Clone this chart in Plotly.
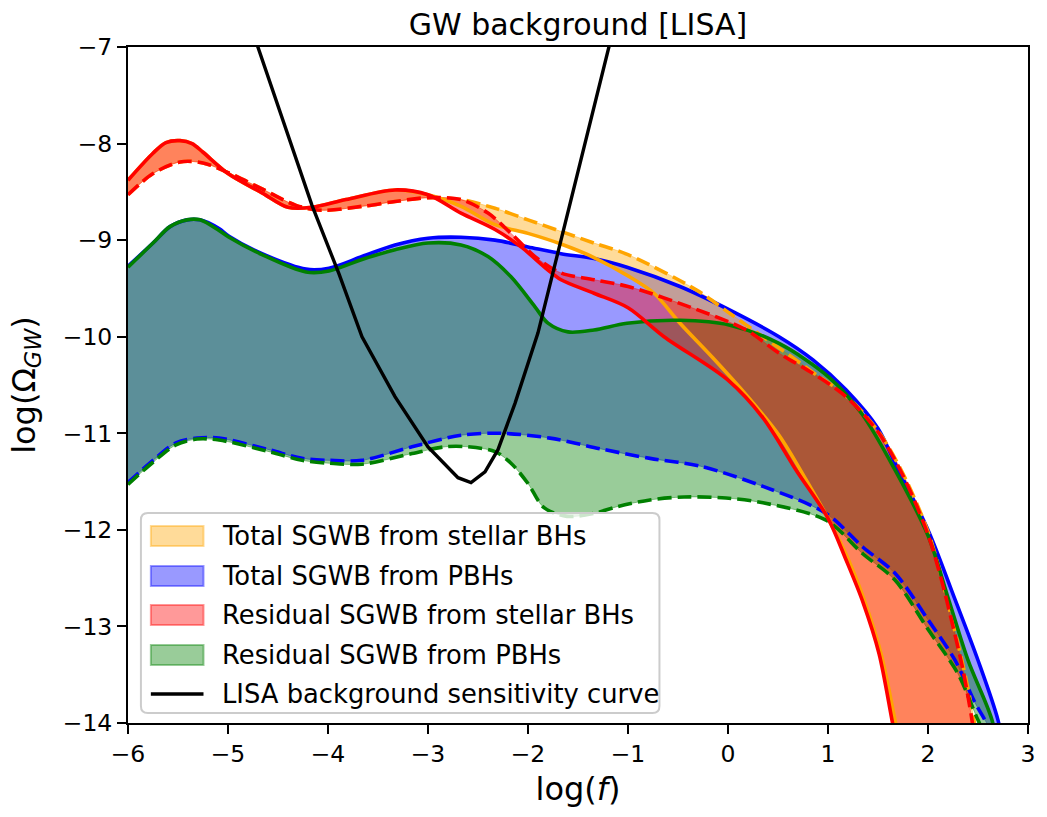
import plotly.graph_objects as go

# ---------------- data ----------------
# Total SGWB from stellar BHs (orange): solid and dashed bounds
x_tot_stellar_solid = [-6.0, -5.75, -5.62, -5.48, -5.36, -5.25, -5.0, -4.66, -4.4, -4.16, -3.82, -3.33, -3.0,
                       -2.67, -2.33, -2.0, -1.67, -1.34, -1.0, -0.74, -0.48, -0.15, 0.18, 0.51, 0.78,
                       1.01, 1.2, 1.37, 1.53, 1.67, 1.75]
y_tot_stellar_solid = [-8.38, -8.10, -7.99, -7.97, -8.0, -8.09, -8.31, -8.51, -8.66, -8.66, -8.58, -8.48, -8.53,
                       -8.65, -8.84, -8.93, -9.04, -9.18, -9.37, -9.55, -9.86, -10.22, -10.6, -11.02, -11.48,
                       -11.9, -12.3, -12.75, -13.28, -13.97, -14.4]
x_tot_stellar_dash = [-6.0, -5.75, -5.48, -5.25, -5.0, -4.66, -4.32, -4.06, -3.66, -3.33, -3.0, -2.67,
                      -2.33, -2.0, -1.67, -1.34, -1.0, -0.31, 0.02, 0.35, 0.68, 0.85, 1.18, 1.51, 1.77,
                      2.0, 2.13, 2.25, 2.36, 2.46, 2.52]
y_tot_stellar_dash = [-8.53, -8.31, -8.19, -8.20, -8.30, -8.47, -8.64, -8.69, -8.65, -8.60, -8.56, -8.58,
                      -8.67, -8.79, -8.91, -9.03, -9.15, -9.52, -9.76, -10.0, -10.24, -10.37, -10.61, -10.99,
                      -11.46, -12.02, -12.47, -12.97, -13.45, -13.97, -14.4]

# Total SGWB from PBHs (blue)
x_tot_pbh_solid = [-6.0, -5.75, -5.58, -5.41, -5.28, -5.09, -4.99, -4.66, -4.22, -3.99, -3.66, -3.33,
                   -3.0, -2.67, -2.33, -2.0, -1.67, -1.34, -1.01, -0.48, 0.01, 0.51, 0.85, 1.18, 1.5,
                   1.67, 2.0, 2.27, 2.5, 2.7, 2.78]
y_tot_pbh_solid = [-9.27, -9.03, -8.86, -8.79, -8.79, -8.88, -8.96, -9.14, -9.30, -9.29, -9.17, -9.05,
                   -8.98, -8.97, -9.00, -9.07, -9.14, -9.19, -9.28, -9.48, -9.72, -10.0, -10.24, -10.55,
                   -10.95, -11.31, -12.0, -12.72, -13.35, -13.97, -14.4]
x_tot_pbh_dash = [-6.0, -5.75, -5.52, -5.31, -5.09, -4.59, -4.26, -3.99, -3.66, -3.16, -2.67, -2.27,
                  -1.78, -1.28, -0.78, -0.28, 0.35, 0.98, 1.35, 1.67, 2.0, 2.27, 2.47, 2.57, 2.8]
y_tot_pbh_dash = [-11.51, -11.28, -11.10, -11.05, -11.05, -11.17, -11.26, -11.28, -11.28, -11.14, -11.02,
                  -11.00, -11.05, -11.16, -11.26, -11.34, -11.55, -11.83, -12.18, -12.45, -12.93, -13.35,
                  -13.79, -13.97, -14.4]

# Residual SGWB from stellar BHs (red)
x_res_stellar_solid = [-6.0, -5.75, -5.62, -5.48, -5.36, -5.25, -5.0, -4.66, -4.4, -4.16, -3.82, -3.33, -3.0,
                       -2.67, -2.33, -2.07, -1.8, -1.67, -1.34, -1.0, -0.64, 0.0, 0.35, 0.68, 1.0, 1.18,
                       1.35, 1.51, 1.64, 1.72]
y_res_stellar_solid = [-8.38, -8.10, -7.99, -7.97, -8.0, -8.09, -8.31, -8.51, -8.66, -8.66, -8.58, -8.48, -8.53,
                       -8.72, -8.89, -9.07, -9.31, -9.41, -9.55, -9.70, -10.0, -10.45, -10.84, -11.38, -11.88,
                       -12.31, -12.75, -13.28, -13.97, -14.4]
x_res_stellar_dash = [-6.0, -5.75, -5.48, -5.25, -5.0, -4.66, -4.32, -4.06, -3.66, -3.33, -3.0, -2.67,
                      -2.4, -2.17, -1.93, -1.67, -1.34, -1.0, -0.31, 0.18, 0.51, 0.85, 1.18, 1.51, 1.77,
                      2.0, 2.13, 2.25, 2.35, 2.44, 2.5]
y_res_stellar_dash = [-8.53, -8.31, -8.19, -8.20, -8.30, -8.47, -8.64, -8.69, -8.65, -8.60, -8.56, -8.58,
                      -8.72, -8.93, -9.17, -9.34, -9.41, -9.48, -9.72, -9.93, -10.17, -10.38, -10.62, -11.0,
                      -11.48, -12.05, -12.5, -13.0, -13.45, -13.97, -14.4]

# Residual SGWB from PBHs (green)
x_res_pbh_solid = [-6.0, -5.75, -5.58, -5.41, -5.28, -5.09, -4.99, -4.66, -4.22, -3.99, -3.66, -3.33,
                   -3.0, -2.67, -2.4, -2.17, -1.93, -1.8, -1.6, -1.34, -1.01, -0.48, 0.02, 0.51, 1.01,
                   1.34, 1.67, 2.0, 2.2, 2.4, 2.64, 2.72]
y_res_pbh_solid = [-9.28, -9.03, -8.86, -8.79, -8.79, -8.90, -8.97, -9.15, -9.33, -9.32, -9.20, -9.10,
                   -9.03, -9.05, -9.17, -9.38, -9.69, -9.86, -9.95, -9.93, -9.86, -9.83, -9.88, -10.07,
                   -10.42, -10.8, -11.38, -12.06, -12.7, -13.35, -13.97, -14.4]
x_res_pbh_dash = [-6.0, -5.75, -5.52, -5.31, -5.09, -4.59, -4.26, -3.99, -3.66, -3.16, -2.83, -2.6,
                  -2.33, -2.17, -2.0, -1.84, -1.61, -1.34, -1.11, -0.78, -0.44, -0.02, 0.35, 0.98, 1.35,
                  1.67, 2.0, 2.3, 2.5, 2.7]
y_res_pbh_dash = [-11.53, -11.30, -11.12, -11.06, -11.07, -11.19, -11.28, -11.31, -11.32, -11.21, -11.14,
                  -11.14, -11.19, -11.31, -11.52, -11.77, -11.86, -11.83, -11.76, -11.69, -11.66, -11.67,
                  -11.72, -11.90, -12.25, -12.52, -13.03, -13.49, -13.97, -14.4]

# LISA background sensitivity curve
x_lisa = [-4.8, -4.7, -4.37, -4.16, -3.89, -3.66, -3.33, -3.0, -2.7, -2.57, -2.43, -2.3, -2.13, -1.9,
          -1.67, -1.19, -1.1]
y_lisa = [-6.7, -7.0, -8.0, -8.64, -9.35, -10.0, -10.62, -11.14, -11.46, -11.51, -11.40, -11.17, -10.69,
          -9.96, -9.0, -7.0, -6.62]

legend_labels = ["Total SGWB from stellar BHs", "Total SGWB from PBHs",
                 "Residual SGWB from stellar BHs", "Residual SGWB from PBHs",
                 "LISA background sensitivity curve"]

RGB = {"orange": "255,165,0", "blue": "0,0,255", "red": "255,0,0", "green": "0,128,0"}

bands = {
    "orange": (x_tot_stellar_solid, y_tot_stellar_solid, x_tot_stellar_dash, y_tot_stellar_dash),
    "blue": (x_tot_pbh_solid, y_tot_pbh_solid, x_tot_pbh_dash, y_tot_pbh_dash),
    "red": (x_res_stellar_solid, y_res_stellar_solid, x_res_stellar_dash, y_res_stellar_dash),
    "green": (x_res_pbh_solid, y_res_pbh_solid, x_res_pbh_dash, y_res_pbh_dash),
}
draw_order = ["blue", "orange", "green", "red"]
legend_colors = ["orange", "blue", "red", "green"]

FONT = "DejaVu Sans"
LW = 3.6
DASH = "14px,6px"
SMOOTH = 0.9

fig = go.Figure()

# fills first (below all lines)
for c in draw_order:
    xs, ys, xd, yd = bands[c]
    fig.add_trace(go.Scatter(
        x=list(xs) + list(xd)[::-1],
        y=list(ys) + list(yd)[::-1],
        mode="lines", fill="toself",
        fillcolor=f"rgba({RGB[c]},0.4)",
        line=dict(color=f"rgba({RGB[c]},0.4)", width=1, shape="spline", smoothing=SMOOTH),
        showlegend=False, hoverinfo="skip",
    ))

# lines
for c in draw_order:
    xs, ys, xd, yd = bands[c]
    fig.add_trace(go.Scatter(
        x=xs, y=ys, mode="lines", showlegend=False, hoverinfo="skip",
        line=dict(color=f"rgb({RGB[c]})", width=LW, shape="spline", smoothing=SMOOTH),
    ))
    fig.add_trace(go.Scatter(
        x=xd, y=yd, mode="lines", showlegend=False, hoverinfo="skip",
        line=dict(color=f"rgb({RGB[c]})", width=LW, dash=DASH, shape="spline", smoothing=SMOOTH),
    ))

fig.add_trace(go.Scatter(
    x=x_lisa, y=y_lisa, mode="lines", showlegend=False,
    line=dict(color="black", width=3.4), hoverinfo="skip",
))

# ---------------- manual legend (matplotlib-like) ----------------
PL, PR, PT, PB = 128, 1034, 47, 723
W, H = PR - PL, PB - PT


def px(xp):
    return (xp - PL) / W


def py(yp):
    return (PB - yp) / H


bx0, bx1, by0, by1, r = 141, 663, 513, 713, 7
box_path = (
    f"M {px(bx0 + r)},{py(by0)} L {px(bx1 - r)},{py(by0)} "
    f"Q {px(bx1)},{py(by0)} {px(bx1)},{py(by0 + r)} "
    f"L {px(bx1)},{py(by1 - r)} Q {px(bx1)},{py(by1)} {px(bx1 - r)},{py(by1)} "
    f"L {px(bx0 + r)},{py(by1)} Q {px(bx0)},{py(by1)} {px(bx0)},{py(by1 - r)} "
    f"L {px(bx0)},{py(by0 + r)} Q {px(bx0)},{py(by0)} {px(bx0 + r)},{py(by0)} Z"
)
shapes = [dict(type="path", xref="paper", yref="paper", path=box_path,
               fillcolor="rgba(255,255,255,0.8)", line=dict(color="#cccccc", width=2), layer="above")]
annotations = []
row_y = [536, 576, 615, 655, 694]
for i, label in enumerate(legend_labels):
    yc = row_y[i]
    if i < 4:
        c = legend_colors[i]
        shapes.append(dict(type="rect", xref="paper", yref="paper",
                           x0=px(151), x1=px(204), y0=py(yc + 10), y1=py(yc - 10),
                           fillcolor=f"rgba({RGB[c]},0.4)",
                           line=dict(color=f"rgba({RGB[c]},0.4)", width=2), layer="above"))
    else:
        shapes.append(dict(type="line", xref="paper", yref="paper",
                           x0=px(151), x1=px(204), y0=py(yc), y1=py(yc),
                           line=dict(color="black", width=3.4), layer="above"))
    annotations.append(dict(text=label, xref="paper", yref="paper", x=px(221), y=py(yc),
                            xanchor="left", yanchor="middle", showarrow=False,
                            font=dict(family=FONT, size=25.8, color="black")))

axis_common = dict(
    showline=True, linecolor="black", linewidth=2, mirror=True,
    ticks="outside", ticklen=9, tickwidth=2, tickcolor="black",
    showgrid=False, zeroline=False,
    tickfont=dict(family=FONT, size=23.5, color="black"),
)

fig.update_layout(
    width=1047, height=817,
    margin=dict(l=PL, r=1047 - PR, t=PT, b=817 - PB),
    paper_bgcolor="white", plot_bgcolor="white",
    font=dict(family=FONT, color="black"),
    title=dict(text="GW background [LISA]", x=0.5, xref="paper", xanchor="center",
               y=1 - 24 / 817, yref="container", yanchor="middle",
               font=dict(family=FONT, size=30, color="black")),
    xaxis=dict(range=[-6, 3], dtick=1, tick0=-6,
               title=dict(text="log(<i>f</i>)", font=dict(family=FONT, size=32, color="black"),
                          standoff=10),
               **axis_common),
    yaxis=dict(range=[-14, -7], dtick=1, tick0=-14,
               title=dict(text="log(Ω<sub><i>GW</i></sub>)",
                          font=dict(family=FONT, size=32, color="black"), standoff=18),
               **axis_common),
    shapes=shapes,
    annotations=annotations,
    showlegend=False,
)

fig.write_html("out.html")
